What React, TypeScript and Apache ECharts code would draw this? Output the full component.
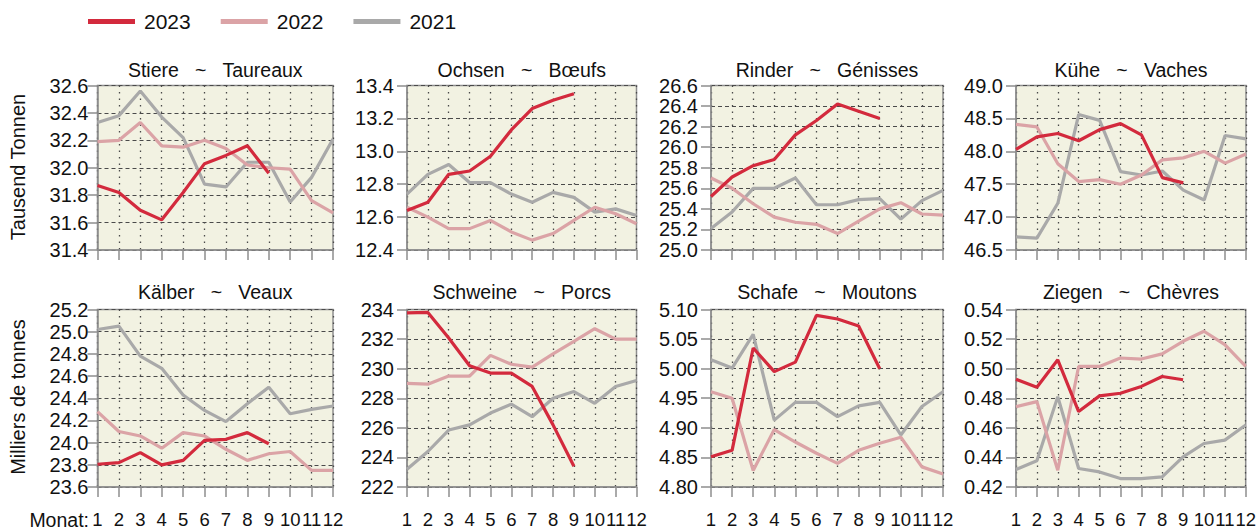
import React, { useEffect, useRef } from "react";
import * as echarts from "echarts";

// ---------- data ----------
const MONTHS = [1, 2, 3, 4, 5, 6, 7, 8, 9, 10, 11, 12];
const YEARS = ["2023", "2022", "2021"];

const TITLES = [
  "Stiere   ~   Taureaux",
  "Ochsen   ~   Bœufs",
  "Rinder   ~   Génisses",
  "Kühe   ~   Vaches",
  "Kälber   ~   Veaux",
  "Schweine   ~   Porcs",
  "Schafe   ~   Moutons",
  "Ziegen   ~   Chèvres",
];

const STIERE_2023 = [31.87, 31.82, 31.69, 31.62, 31.82, 32.03, 32.09, 32.16, 31.96];
const STIERE_2022 = [32.19, 32.2, 32.33, 32.16, 32.15, 32.2, 32.14, 32.02, 32.0, 31.99, 31.76, 31.67];
const STIERE_2021 = [32.33, 32.38, 32.56, 32.37, 32.22, 31.88, 31.86, 32.04, 32.04, 31.75, 31.93, 32.21];

const OCHSEN_2023 = [12.64, 12.69, 12.86, 12.88, 12.97, 13.13, 13.26, 13.31, 13.35];
const OCHSEN_2022 = [12.66, 12.6, 12.53, 12.53, 12.58, 12.51, 12.46, 12.5, 12.58, 12.66, 12.62, 12.56];
const OCHSEN_2021 = [12.74, 12.86, 12.92, 12.81, 12.81, 12.74, 12.69, 12.75, 12.72, 12.63, 12.65, 12.61];

const RINDER_2023 = [25.52, 25.71, 25.82, 25.88, 26.12, 26.26, 26.42, 26.35, 26.28];
const RINDER_2022 = [25.7, 25.6, 25.45, 25.32, 25.27, 25.25, 25.16, 25.28, 25.4, 25.46, 25.35, 25.34];
const RINDER_2021 = [25.21, 25.37, 25.6, 25.6, 25.7, 25.44, 25.44, 25.49, 25.5, 25.3, 25.48, 25.58];

const KUEHE_2023 = [48.03, 48.22, 48.27, 48.16, 48.33, 48.42, 48.25, 47.6, 47.52];
const KUEHE_2022 = [48.41, 48.37, 47.81, 47.54, 47.57, 47.5, 47.64, 47.87, 47.9, 48.0, 47.82, 47.96];
const KUEHE_2021 = [46.7, 46.68, 47.21, 48.56, 48.47, 47.69, 47.64, 47.7, 47.41, 47.26, 48.24, 48.19];

const KAELBER_2023 = [23.805, 23.82, 23.91, 23.8, 23.84, 24.02, 24.03, 24.09, 23.99];
const KAELBER_2022 = [24.28, 24.1, 24.06, 23.95, 24.09, 24.06, 23.94, 23.84, 23.9, 23.92, 23.75, 23.75];
const KAELBER_2021 = [25.02, 25.05, 24.78, 24.67, 24.43, 24.29, 24.19, 24.35, 24.5, 24.26, 24.3, 24.33];

const SCHWEINE_2023 = [233.77, 233.8, 232.07, 230.2, 229.7, 229.7, 228.8, 226.2, 223.4];
const SCHWEINE_2022 = [229.0, 228.95, 229.5, 229.5, 230.9, 230.3, 230.1, 231.0, 231.85, 232.7, 232.0, 232.0];
const SCHWEINE_2021 = [223.2, 224.4, 225.85, 226.2, 227.0, 227.6, 226.75, 228.0, 228.45, 227.66, 228.8, 229.2];

const SCHAFE_2023 = [4.851, 4.862, 5.035, 4.995, 5.011, 5.09, 5.084, 5.072, 5.0];
const SCHAFE_2022 = [4.961, 4.95, 4.828, 4.897, 4.876, 4.857, 4.84, 4.862, 4.874, 4.884, 4.834, 4.822];
const SCHAFE_2021 = [5.015, 5.001, 5.058, 4.913, 4.943, 4.943, 4.919, 4.937, 4.943, 4.888, 4.936, 4.961];

const ZIEGEN_2023 = [0.4929, 0.4875, 0.506, 0.471, 0.4816, 0.4834, 0.488, 0.4947, 0.4925];
const ZIEGEN_2022 = [0.4743, 0.4777, 0.4313, 0.5015, 0.5015, 0.5072, 0.5065, 0.51, 0.5185, 0.5253, 0.5162, 0.5015];
const ZIEGEN_2021 = [0.4318, 0.4377, 0.4811, 0.4325, 0.4302, 0.4257, 0.4257, 0.4268, 0.4404, 0.4494, 0.4517, 0.4619];

// y-axis ranges
const Y_MIN = [31.4, 12.4, 25.0, 46.5, 23.6, 222, 4.8, 0.42];
const Y_MAX = [32.6, 13.4, 26.6, 49.0, 25.2, 234, 5.1, 0.54];
const Y_STEP = [0.2, 0.2, 0.2, 0.5, 0.2, 2, 0.05, 0.02];
const Y_DEC = [1, 1, 1, 1, 1, 0, 2, 2];

const Y_NAME_TOP = "Tausend Tonnen";
const Y_NAME_BOTTOM = "Milliers de tonnes";
const X_NAME = "Monat:";

const SERIES_DATA = [
  [STIERE_2023, STIERE_2022, STIERE_2021],
  [OCHSEN_2023, OCHSEN_2022, OCHSEN_2021],
  [RINDER_2023, RINDER_2022, RINDER_2021],
  [KUEHE_2023, KUEHE_2022, KUEHE_2021],
  [KAELBER_2023, KAELBER_2022, KAELBER_2021],
  [SCHWEINE_2023, SCHWEINE_2022, SCHWEINE_2021],
  [SCHAFE_2023, SCHAFE_2022, SCHAFE_2021],
  [ZIEGEN_2023, ZIEGEN_2022, ZIEGEN_2021],
];

// ---------- layout / style ----------
const COL_LEFT = [97.5, 407, 711, 1016];
const COL_WIDTH = [235.5, 229.5, 232, 230];
const ROW_TOP = [85.5, 309.5];
const ROW_HEIGHT = [164.5, 177.5];
const COLORS = ["#d32a3d", "#dba3a6", "#a9a9a9"];
const FONT = "'Liberation Sans', Arial, sans-serif";
const AXIS_GREY = "#8e8e8e";
const GRID_DARK = "#4a4a4a";
const PLOT_BG = "#f2f2e2";

export default function App() {
  const ref = useRef<HTMLDivElement>(null);

  useEffect(() => {
    if (!ref.current) return;
    const chart = echarts.init(ref.current, undefined, { renderer: "svg" });

    const grids: any[] = [];
    const xAxes: any[] = [];
    const yAxes: any[] = [];
    const series: any[] = [];
    const graphics: any[] = [];

    for (let p = 0; p < 8; p++) {
      const row = Math.floor(p / 4);
      const col = p % 4;
      const left = COL_LEFT[col];
      const width = COL_WIDTH[col];
      const top = ROW_TOP[row];
      const height = ROW_HEIGHT[row];
      grids.push({
        left,
        top,
        width,
        height,
        show: true,
        backgroundColor: PLOT_BG,
        borderColor: AXIS_GREY,
        borderWidth: 1.5,
      });
      xAxes.push({
        type: "value",
        gridIndex: p,
        min: 1,
        max: 12,
        interval: 1,
        axisLine: { show: true, lineStyle: { color: AXIS_GREY, width: 1.5 } },
        axisTick: { show: true, length: 10, lineStyle: { color: AXIS_GREY, width: 1.5 } },
        axisLabel: {
          show: row === 1,
          fontSize: 18.5,
          color: "#111",
          fontFamily: FONT,
          margin: 23,
          hideOverlap: false,
          showMinLabel: true,
          showMaxLabel: true,
        },
        splitLine: { show: true, lineStyle: { color: GRID_DARK, type: [1.5, 5], width: 1.3 } },
      });
      const dec = Y_DEC[p];
      yAxes.push({
        type: "value",
        gridIndex: p,
        min: Y_MIN[p],
        max: Y_MAX[p],
        interval: Y_STEP[p],
        axisLine: { show: true, lineStyle: { color: AXIS_GREY, width: 1.5 } },
        axisTick: { show: true, length: 10, lineStyle: { color: AXIS_GREY, width: 1.5 } },
        axisLabel: {
          fontSize: 20,
          color: "#111",
          fontFamily: FONT,
          margin: col === 0 ? 9 : 13,
          showMinLabel: true,
          showMaxLabel: true,
          formatter: (v: number) => v.toFixed(dec),
        },
        splitLine: { show: true, lineStyle: { color: GRID_DARK, type: [4, 3], width: 1.2 } },
      });
      // draw 2021, 2022 then 2023 on top
      for (let k = 2; k >= 0; k--) {
        const vals = SERIES_DATA[p][k];
        series.push({
          name: YEARS[k],
          type: "line",
          xAxisIndex: p,
          yAxisIndex: p,
          data: vals.map((v, i) => [MONTHS[i], v]),
          showSymbol: false,
          symbol: "none",
          color: COLORS[k],
          lineStyle: { color: COLORS[k], width: 3.2 },
          z: 3 - k,
        });
      }
      graphics.push({
        type: "text",
        x: left + width / 2,
        y: row === 0 ? 70 : 292,
        style: {
          text: TITLES[p],
          fill: "#111",
          font: `19.5px ${FONT}`,
          textAlign: "center",
          textVerticalAlign: "middle",
        },
      });
    }

    graphics.push({
      type: "text",
      x: 18,
      y: 167,
      rotation: Math.PI / 2,
      style: {
        text: Y_NAME_TOP,
        fill: "#111",
        font: `20px ${FONT}`,
        textAlign: "center",
        textVerticalAlign: "middle",
      },
    });
    graphics.push({
      type: "text",
      x: 18,
      y: 397,
      rotation: Math.PI / 2,
      style: {
        text: Y_NAME_BOTTOM,
        fill: "#111",
        font: `20px ${FONT}`,
        textAlign: "center",
        textVerticalAlign: "middle",
      },
    });
    graphics.push({
      type: "text",
      x: 89,
      y: 520,
      style: {
        text: X_NAME,
        fill: "#111",
        font: `19.5px ${FONT}`,
        textAlign: "right",
        textVerticalAlign: "middle",
      },
    });

    chart.setOption({
      animation: false,
      backgroundColor: "#ffffff",
      legend: {
        data: YEARS,
        left: 83,
        top: 6,
        icon: "rect",
        itemWidth: 47,
        itemHeight: 5,
        itemGap: 30,
        textStyle: { fontSize: 21, color: "#111", fontFamily: FONT, padding: [0, 0, 0, 4] },
      },
      grid: grids,
      xAxis: xAxes,
      yAxis: yAxes,
      series,
      graphic: graphics,
    });

    return () => chart.dispose();
  }, []);

  return (
    <div
      ref={ref}
      style={{ position: "fixed", left: 0, top: 0, width: 1259, height: 530, background: "#fff" }}
    />
  );
}
